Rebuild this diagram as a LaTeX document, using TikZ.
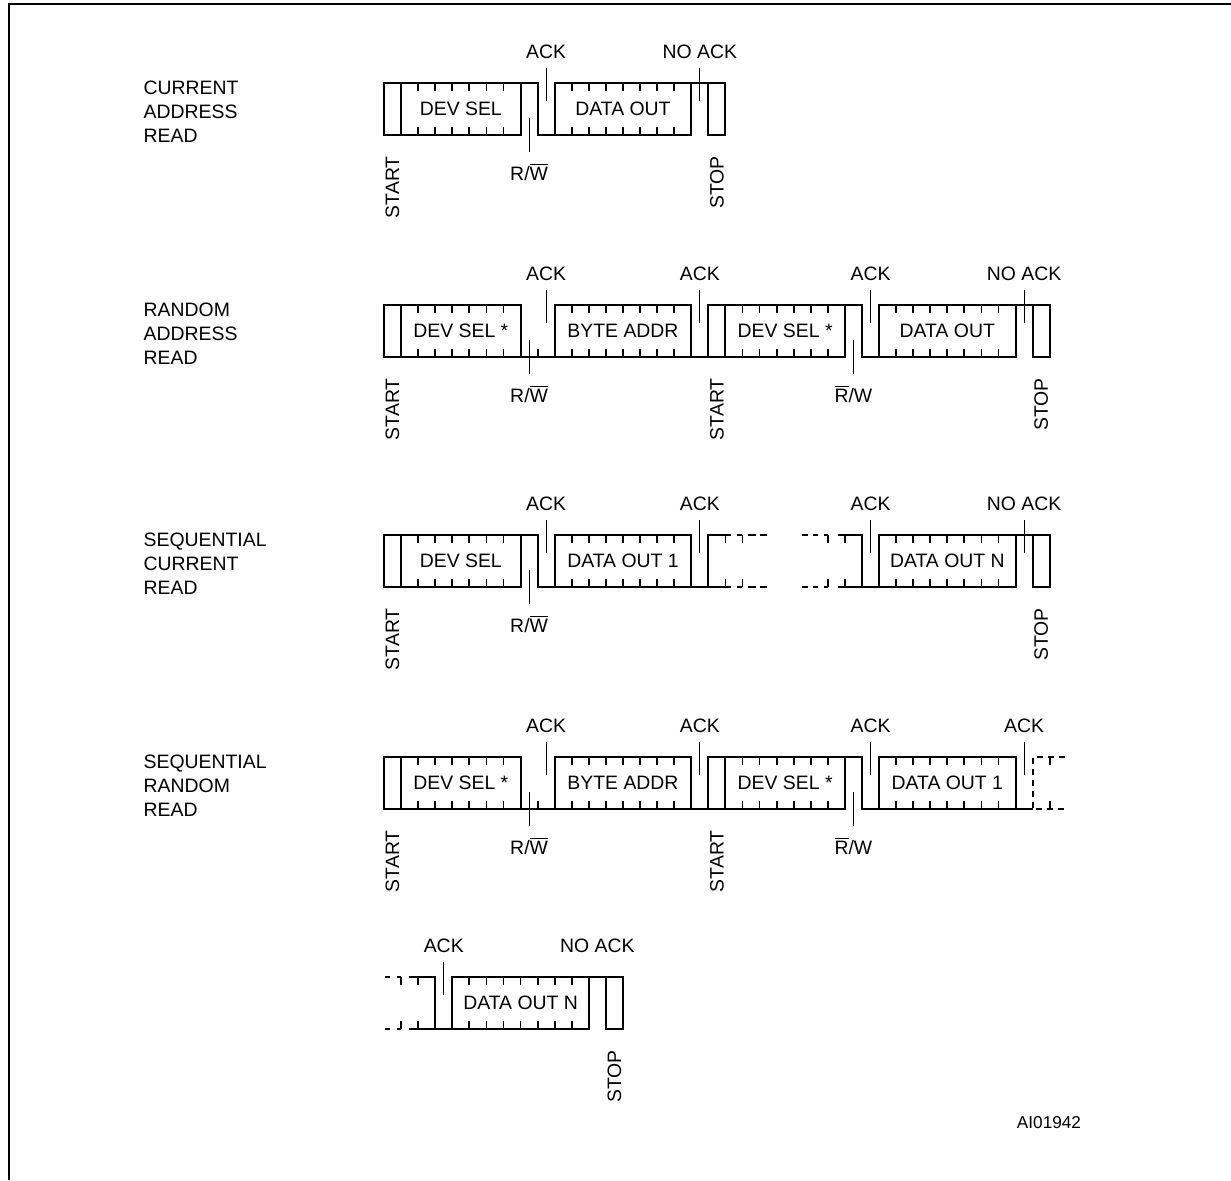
\documentclass[tikz,border=0pt]{standalone}
\usepackage{fontspec}
\setmainfont{Liberation Sans}
\usetikzlibrary{positioning}

% one data byte: first bit, last bit, name, text
\newcommand{\busbox}[4]{%
  \draw[wave] (#1,0) rectangle (#2,1);
  \foreach \k in {#1,...,#2} {\draw[tick] (\k,0) -- (\k,0.16) (\k,1) -- (\k,0.84);}
  \node[boxtext] (#3) at ({(#1+#2)/2},0.5) {#4};}

\begin{document}
\begin{tikzpicture}[x=8.535pt, y=-26pt,
  font=\fontsize{9.7pt}{12pt}\selectfont,
  wave/.style={line width=1pt, line join=miter},
  tick/.style={line width=0.9pt},
  pin/.style={line width=0.5pt},
  lbl/.style={inner sep=0.5pt},
  vlbl/.style={rotate=90, inner sep=0.5pt, anchor=east},
  boxtext/.style={inner sep=0pt},
  title/.style={align=left, anchor=west, inner sep=0pt},
  gap/.style={wave, dash pattern=on 3pt off 2.5pt}]
\useasboundingbox (0pt,0pt) rectangle (615.5pt,-590pt);
\draw[line width=1pt] (4.35pt,-590pt) -- (4.35pt,-2pt) -- (615.5pt,-2pt);

% current address read
\begin{scope}[shift={(192pt,-41.5pt)}]
\node[title] (t1) at (-14.1,0.56) {CURRENT\\ADDRESS\\READ};
\draw[wave] (0,0) rectangle (1,1);
\busbox{1}{8}{r1ds}{DEV SEL}
\draw[wave] (8,0) -- (9,0) -- (9,1) -- (10,1);
\busbox{10}{18}{r1do}{DATA OUT}
\draw[wave] (18,0) -- (19,0);
\draw[wave] (19,0) rectangle (20,1);
\draw[pin] (9.5,-0.29) coordinate (r1p1) -- (9.5,0.35);
\node[lbl, above=4pt of r1p1] (r1ack) {ACK};
\draw[pin] (18.5,-0.29) coordinate (r1p2) -- (18.5,0.35);
\node[lbl, above=4pt of r1p2] (r1nack) {NO ACK};
\draw[pin] (8.5,0.67) -- (8.5,1.33) coordinate (r1w);
\node[lbl, below=5pt of r1w] (r1rw) {R/\(\overline{\mbox{W}}\)};
\node[vlbl] (r1st) at (0.5,1.385) {START};
\node[vlbl] (r1sp) at (19.5,1.385) {STOP};
\end{scope}

% random address read
\begin{scope}[shift={(192pt,-152.5pt)}]
\node[title] (t2) at (-14.1,0.56) {RANDOM\\ADDRESS\\READ};
\draw[wave] (0,0) rectangle (1,1);
\busbox{1}{8}{r2ds}{DEV SEL *}
\draw[wave] (8,1) -- (10,1);
\draw[tick] (9,1) -- (9,0.84);
\busbox{10}{18}{r2ba}{BYTE ADDR}
\draw[wave] (18,1) -- (19,1);
\draw[wave] (19,0) rectangle (20,1);
\busbox{20}{27}{r2dt}{DEV SEL *}
\draw[wave] (27,0) -- (28,0) -- (28,1) -- (29,1);
\busbox{29}{37}{r2do}{DATA OUT}
\draw[wave] (37,0) -- (38,0);
\draw[wave] (38,0) rectangle (39,1);
\draw[pin] (9.5,-0.29) coordinate (r2p1) -- (9.5,0.35);
\node[lbl, above=4pt of r2p1] (r2ack1) {ACK};
\draw[pin] (18.5,-0.29) coordinate (r2p2) -- (18.5,0.35);
\node[lbl, above=4pt of r2p2] (r2ack2) {ACK};
\draw[pin] (28.5,-0.29) coordinate (r2p3) -- (28.5,0.35);
\node[lbl, above=4pt of r2p3] (r2ack3) {ACK};
\draw[pin] (37.5,-0.29) coordinate (r2p4) -- (37.5,0.35);
\node[lbl, above=4pt of r2p4] (r2nack) {NO ACK};
\draw[pin] (8.5,0.67) -- (8.5,1.33) coordinate (r2w1);
\node[lbl, below=5pt of r2w1] (r2rw1) {R/\(\overline{\mbox{W}}\)};
\draw[pin] (27.5,0.67) -- (27.5,1.33) coordinate (r2w2);
\node[lbl, below=5pt of r2w2] (r2rw2) {\(\overline{\mbox{R}}\)/W};
\node[vlbl] (r2st1) at (0.5,1.385) {START};
\node[vlbl] (r2st2) at (19.5,1.385) {START};
\node[vlbl] (r2sp) at (38.5,1.385) {STOP};
\end{scope}

% sequential current read
\begin{scope}[shift={(192pt,-267.5pt)}]
\node[title] (t3) at (-14.1,0.56) {SEQUENTIAL\\CURRENT\\READ};
\draw[wave] (0,0) rectangle (1,1);
\busbox{1}{8}{r3ds}{DEV SEL}
\draw[wave] (8,0) -- (9,0) -- (9,1) -- (10,1);
\busbox{10}{18}{r3do}{DATA OUT 1}
\draw[wave] (18,1) -- (19,1);
\draw[wave] (20.3,0) -- (19,0) -- (19,1) -- (20.3,1);
\foreach \a/\b in {20.65/21, 21.35/21.8, 22.05/22.45, 24.5/24.85, 25.15/25.45, 25.8/26}
  \draw[wave] (\a,0) -- (\b,0) (\a,1) -- (\b,1);
\draw[wave] (26.6,0) -- (28,0) -- (28,1) -- (26.6,1);
\foreach \k in {20,21,26,27}
  \draw[tick] (\k,0) -- (\k,0.16) (\k,1) -- (\k,0.84);
\draw[wave] (28,1) -- (29,1);
\busbox{29}{37}{r3dn}{DATA OUT N}
\draw[wave] (37,0) -- (38,0);
\draw[wave] (38,0) rectangle (39,1);
\draw[pin] (9.5,-0.29) coordinate (r3p1) -- (9.5,0.35);
\node[lbl, above=4pt of r3p1] (r3ack1) {ACK};
\draw[pin] (18.5,-0.29) coordinate (r3p2) -- (18.5,0.35);
\node[lbl, above=4pt of r3p2] (r3ack2) {ACK};
\draw[pin] (28.5,-0.29) coordinate (r3p3) -- (28.5,0.35);
\node[lbl, above=4pt of r3p3] (r3ack3) {ACK};
\draw[pin] (37.5,-0.29) coordinate (r3p4) -- (37.5,0.35);
\node[lbl, above=4pt of r3p4] (r3nack) {NO ACK};
\draw[pin] (8.5,0.67) -- (8.5,1.33) coordinate (r3w);
\node[lbl, below=5pt of r3w] (r3rw) {R/\(\overline{\mbox{W}}\)};
\node[vlbl] (r3st) at (0.5,1.385) {START};
\node[vlbl] (r3sp) at (38.5,1.385) {STOP};
\end{scope}

% sequential random read
\begin{scope}[shift={(192pt,-378.5pt)}]
\node[title] (t4) at (-14.1,0.56) {SEQUENTIAL\\RANDOM\\READ};
\draw[wave] (0,0) rectangle (1,1);
\busbox{1}{8}{r4ds}{DEV SEL *}
\draw[wave] (8,1) -- (10,1);
\draw[tick] (9,1) -- (9,0.84);
\busbox{10}{18}{r4ba}{BYTE ADDR}
\draw[wave] (18,1) -- (19,1);
\draw[wave] (19,0) rectangle (20,1);
\busbox{20}{27}{r4dt}{DEV SEL *}
\draw[wave] (27,0) -- (28,0) -- (28,1) -- (29,1);
\busbox{29}{37}{r4do}{DATA OUT 1}
\draw[wave] (37,1) -- (38,1);
\draw[gap] (39.9,0) -- (38,0) -- (38,1) -- (39.9,1);
\draw[tick] (39,0) -- (39,0.16) (39,1) -- (39,0.84);
\draw[pin] (9.5,-0.29) coordinate (r4p1) -- (9.5,0.35);
\node[lbl, above=4pt of r4p1] (r4ack1) {ACK};
\draw[pin] (18.5,-0.29) coordinate (r4p2) -- (18.5,0.35);
\node[lbl, above=4pt of r4p2] (r4ack2) {ACK};
\draw[pin] (28.5,-0.29) coordinate (r4p3) -- (28.5,0.35);
\node[lbl, above=4pt of r4p3] (r4ack3) {ACK};
\draw[pin] (37.5,-0.29) coordinate (r4p4) -- (37.5,0.35);
\node[lbl, above=4pt of r4p4] (r4ack4) {ACK};
\draw[pin] (8.5,0.67) -- (8.5,1.33) coordinate (r4w1);
\node[lbl, below=5pt of r4w1] (r4rw1) {R/\(\overline{\mbox{W}}\)};
\draw[pin] (27.5,0.67) -- (27.5,1.33) coordinate (r4w2);
\node[lbl, below=5pt of r4w2] (r4rw2) {\(\overline{\mbox{R}}\)/W};
\node[vlbl] (r4st1) at (0.5,1.385) {START};
\node[vlbl] (r4st2) at (19.5,1.385) {START};
\end{scope}

% continuation of sequential random read
\begin{scope}[shift={(192pt,-488.5pt)}]
\foreach \a/\b in {0.05/0.35, 0.75/1}
  \draw[wave] (\a,0) -- (\b,0) (\a,1) -- (\b,1);
\draw[wave] (1.45,0) -- (3,0) -- (3,1) -- (1.45,1);
\foreach \k in {1,2}
  \draw[tick] (\k,0) -- (\k,0.16) (\k,1) -- (\k,0.84);
\draw[wave] (3,1) -- (4,1);
\busbox{4}{12}{r5dn}{DATA OUT N}
\draw[wave] (12,0) -- (13,0);
\draw[wave] (13,0) rectangle (14,1);
\draw[pin] (3.5,-0.29) coordinate (r5p1) -- (3.5,0.35);
\node[lbl, above=4pt of r5p1] (r5ack) {ACK};
\coordinate (r5p2) at (12.5,-0.29);
\node[lbl, above=4pt of r5p2] (r5nack) {NO ACK};
\node[vlbl] (r5sp) at (13.5,1.385) {STOP};
\end{scope}

\node[font=\fontsize{8.6pt}{10pt}\selectfont] (code) at (524.5pt,-561.5pt) {AI01942};
\end{tikzpicture}
\end{document}
